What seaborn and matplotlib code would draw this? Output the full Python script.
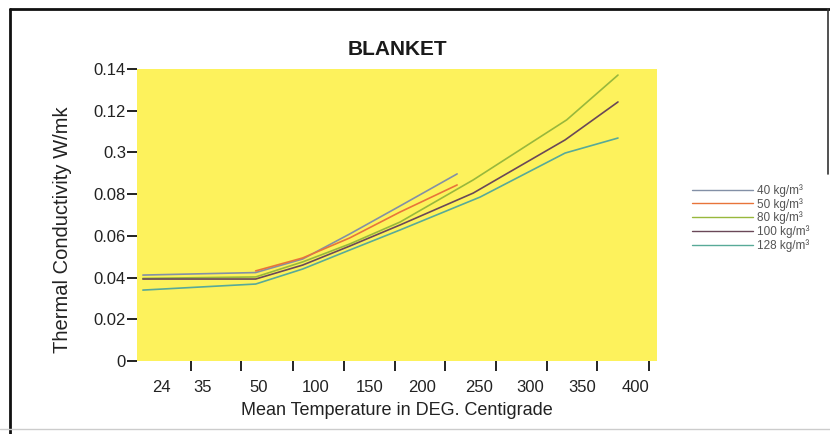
import numpy as np
import pandas as pd
import matplotlib
matplotlib.use('Agg')
import matplotlib.pyplot as plt
import seaborn as sns
from matplotlib.lines import Line2D

# tick labels as printed on the scan (the 0.10 tick really reads "0.3")
temp_labels = ['24', '35', '50', '100', '150', '200', '250', '300', '350', '400']
label_slots = [0.11, 0.89, 1.94, 3.01, 4.02, 5.0, 6.06, 7.01, 7.99, 8.98]
tick_slots = [0.67, 1.6, 2.58, 3.53, 4.49, 5.43, 6.38, 7.33, 8.27, 9.24]
y_ticks = [0, 0.02, 0.04, 0.06, 0.08, 0.10, 0.12, 0.14]
y_tick_labels = ['0', '0.02', '0.04', '0.06', '0.08', '0.3', '0.12', '0.14']

# curves, x in label slots (0 = "24", 9 = "400")
x_40 = [-0.23, 1.88, 2.76, 3.64, 4.58, 5.65]
k_40 = [0.0412, 0.0424, 0.0489, 0.0609, 0.0743, 0.0897]

x_50 = [1.88, 2.76, 3.64, 4.58, 5.65]
k_50 = [0.0432, 0.0494, 0.0590, 0.0714, 0.0844]

x_80 = [-0.23, 1.88, 2.76, 3.64, 4.58, 5.95, 7.70, 8.66]
k_80 = [0.0396, 0.0403, 0.0475, 0.0561, 0.0666, 0.0868, 0.1156, 0.1371]

x_100 = [-0.23, 1.88, 2.76, 3.64, 4.58, 5.95, 7.67, 8.66]
k_100 = [0.0393, 0.0393, 0.0460, 0.0551, 0.0652, 0.0805, 0.1060, 0.1242]

x_128 = [-0.23, 1.88, 2.76, 3.64, 4.58, 6.08, 7.67, 8.66]
k_128 = [0.0340, 0.0369, 0.0441, 0.0532, 0.0628, 0.0786, 0.0997, 0.1069]

series = ['40 kg/m³', '50 kg/m³', '80 kg/m³', '100 kg/m³', '128 kg/m³']
colors = ['#8390a6', '#e8743a', '#98b83c', '#6a4858', '#58aa98']

frames = []
for name, xs, ks in zip(series,
                        [x_40, x_50, x_80, x_100, x_128],
                        [k_40, k_50, k_80, k_100, k_128]):
    frames.append(pd.DataFrame({'slot': xs, 'k': ks, 'density': name}))
df = pd.concat(frames, ignore_index=True)

sns.set_style('white')
plt.rcParams['font.family'] = ['Liberation Sans', 'DejaVu Sans']

fig = plt.figure(figsize=(8.3, 4.34), dpi=100)
ax = fig.add_axes([137 / 830, 1 - 361 / 434, 520 / 830, 292 / 434])
ax.set_facecolor('#fdf25c')

sns.lineplot(data=df, x='slot', y='k', hue='density', hue_order=series,
             palette=dict(zip(series, colors)), sort=False, estimator=None,
             linewidth=1.2, ax=ax)

ax.set_xlim(-0.34, 9.39)
ax.set_ylim(0, 0.14)
for s in ax.spines.values():
    s.set_visible(False)

# tick marks sit between the printed labels on the original
ax.set_xticks(tick_slots)
ax.set_xticklabels([])
ax.set_xticks(label_slots, minor=True)
ax.set_xticklabels(temp_labels, minor=True)
ax.tick_params(axis='x', which='major', direction='out', length=7,
               width=1.4, color='#222222', bottom=True)
ax.tick_params(axis='x', which='minor', length=0, pad=14, labelsize=12,
               labelcolor='#222222', bottom=True)

ax.set_yticks(y_ticks)
ax.set_yticklabels(y_tick_labels)
ax.tick_params(axis='y', direction='out', length=7, width=1.4, pad=1,
               color='#222222', labelsize=12, labelcolor='#222222', left=True)

ax.set_xlabel('Mean Temperature in DEG. Centigrade', fontsize=13, color='#222222')
ax.xaxis.set_label_coords(0.5, -0.14)
ax.set_ylabel('Thermal Conductivity W/mk', fontsize=14.5, color='#222222')
ax.yaxis.set_label_coords(-0.125, 0.45)
ax.set_title('BLANKET', fontsize=15, fontweight='bold', color='#1a1a1a', pad=10)

leg = ax.legend(loc='upper left', bbox_to_anchor=(686 / 830, 1 - 178 / 434),
                bbox_transform=fig.transFigure, frameon=False, fontsize=8.5,
                handlelength=5.2, handletextpad=0.3, labelspacing=0.08,
                borderpad=0)
for t in leg.get_texts():
    t.set_color('#555555')
for h in leg.get_lines():
    h.set_linewidth(1.0)

# border of the scanned page
fig.add_artist(Line2D([0.012, 1.0], [0.979, 0.979], color='#111111', lw=2))
fig.add_artist(Line2D([0.012, 0.012], [0.0, 0.979], color='#111111', lw=2))
fig.add_artist(Line2D([0.997, 0.997], [0.6, 0.979], color='#333333', lw=1.2))
fig.add_artist(Line2D([0.0, 1.0], [0.012, 0.012], color='#cccccc', lw=1))

fig.savefig('out.png', dpi=100)
